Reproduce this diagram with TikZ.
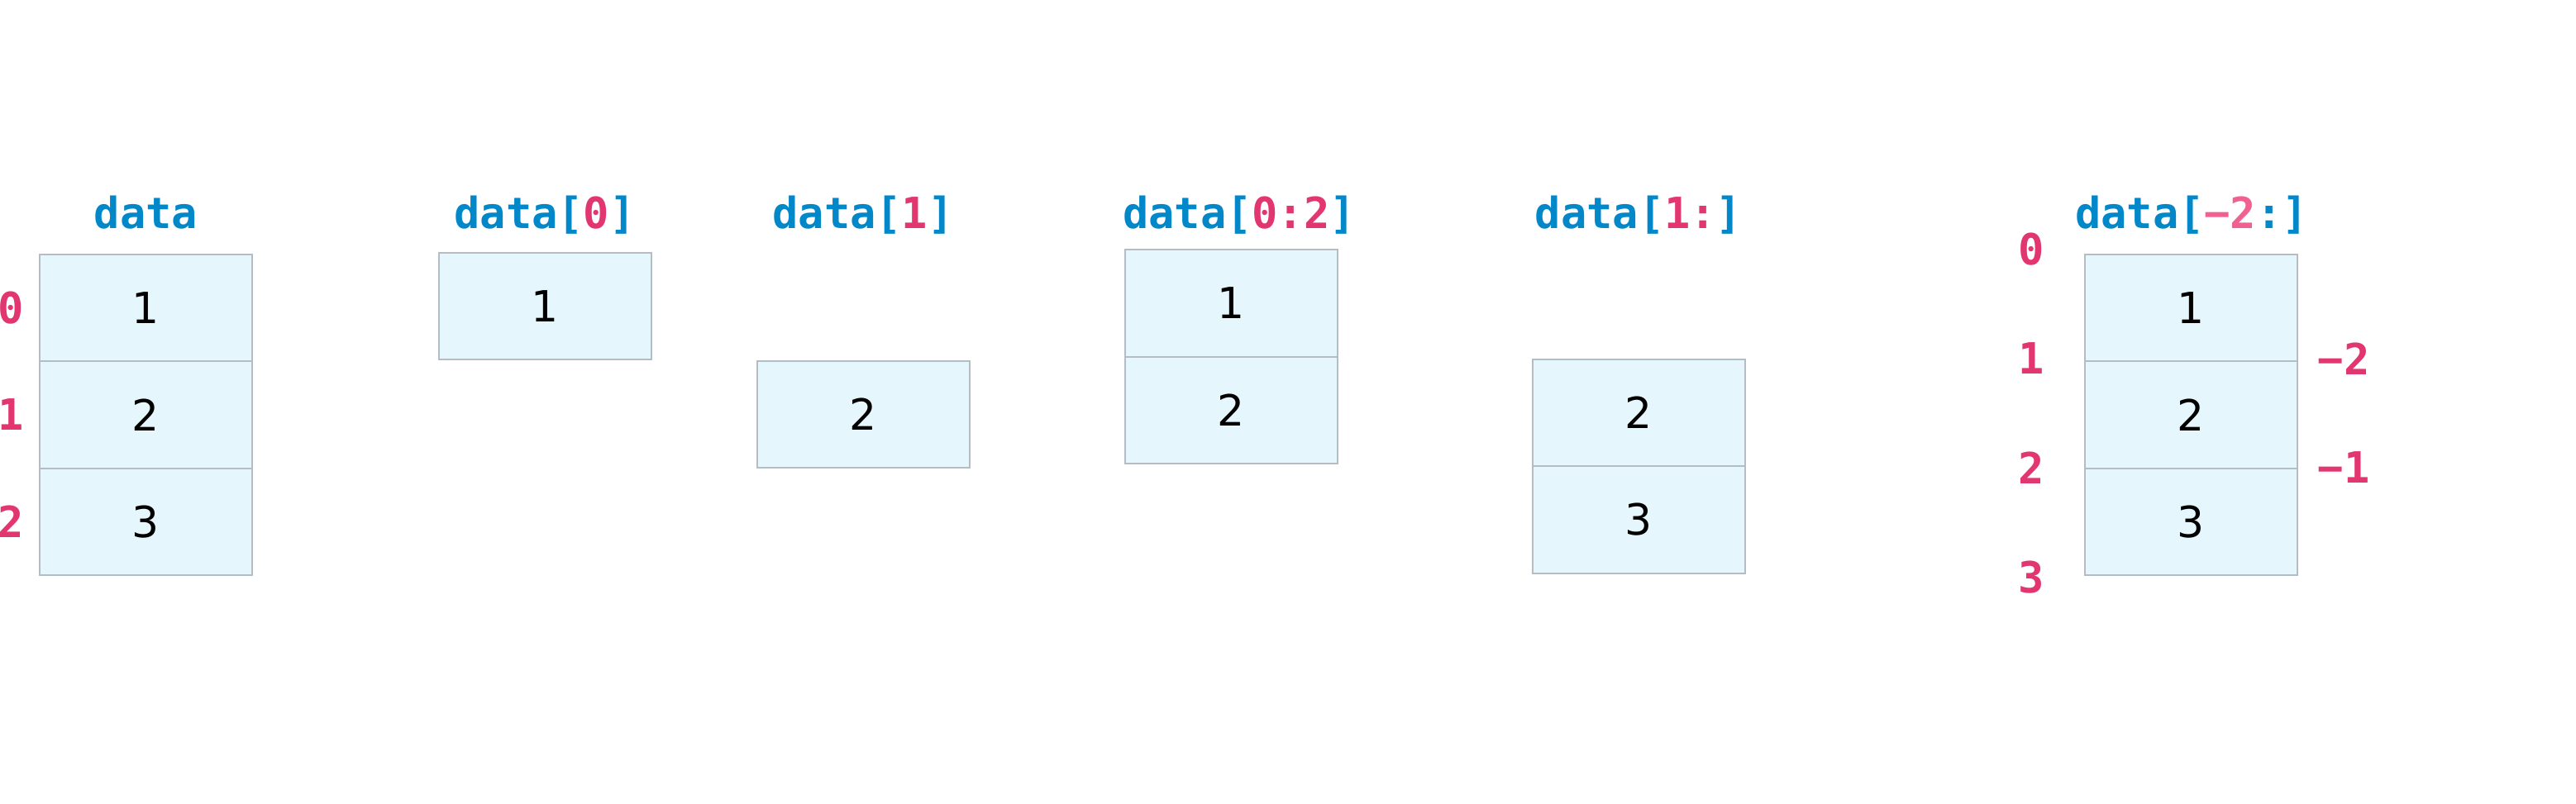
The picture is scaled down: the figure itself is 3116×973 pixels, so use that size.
\documentclass[tikz,border=0pt]{standalone}
\usepackage{fontspec}
\setmainfont{DejaVu Sans}
\setmonofont{DejaVu Sans Mono}
\usetikzlibrary{positioning}
\definecolor{pyblue}{RGB}{2,136,201}
\definecolor{idxpink}{RGB}{226,54,112}
\definecolor{negpink}{RGB}{240,96,144}
\definecolor{cellfill}{RGB}{229,246,253}
\definecolor{cellline}{RGB}{180,188,196}
\begin{document}
\begin{tikzpicture}[x=0.5pt, y=-0.5pt, node distance=0pt,
		cell/.style={rectangle, draw=cellline, fill=cellfill, line width=1pt,
		outer sep=0pt, minimum width=128.5pt, minimum height=64.7pt,
		font=\fontsize{26pt}{30pt}\selectfont},
		title/.style={anchor=base, text=pyblue,
		font=\ttfamily\bfseries\fontsize{26pt}{30pt}\selectfont},
		idx/.style={text=idxpink, inner sep=0pt,
		font=\ttfamily\bfseries\fontsize{26pt}{30pt}\selectfont} ]
	\useasboundingbox (0,0) rectangle (3116,973);
	% data
	\node[title] (t1) at (176.5,277) {data};
	\node[cell] (a1) at (176.5,372.5) {1};
	\node[cell, below=of a1] (a2) {2};
	\node[cell, below=of a2] (a3) {3};
	\node[idx] at (13.5,372.5) {0};
	\node[idx] at (13.5,502) {1};
	\node[idx] at (13.5,631.5) {2};
	% data[0]
	\node[title] (t2) at (659,277) {data[\textcolor{idxpink}{0}]};
	\node[cell] (b1) at (659,370.5) {1};
	% data[1]
	\node[title] (t3) at (1044,277) {data[\textcolor{idxpink}{1}]};
	\node[cell] (c1) at (1044,501.5) {2};
	% data[0:2]
	\node[title] (t4) at (1499,277) {data[\textcolor{idxpink}{0:2}]};
	\node[cell] (d1) at (1489,367) {1};
	\node[cell, below=of d1] (d2) {2};
	% data[1:]
	\node[title] (t5) at (1982,277) {data[\textcolor{idxpink}{1:}]};
	\node[cell] (e1) at (1982,499.5) {2};
	\node[cell, below=of e1] (e2) {3};
	% data[-2:]
	\node[title] (t6) at (2651,277) {data[\textcolor{negpink}{−2}:]};
	\node[cell] (f1) at (2650,372.5) {1};
	\node[cell, below=of f1] (f2) {2};
	\node[cell, below=of f2] (f3) {3};
	\node[idx] at (2457,302) {0};
	\node[idx] at (2457,434) {1};
	\node[idx] at (2457,566) {2};
	\node[idx] at (2457,699) {3};
	\node[idx] at (2835,434) {−2};
	\node[idx] at (2835,566) {−1};
\end{tikzpicture}
\end{document}
